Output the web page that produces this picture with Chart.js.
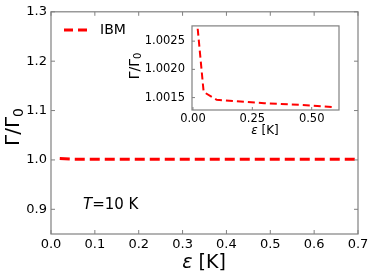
<!DOCTYPE html>
<html>
<head>
<meta charset="utf-8">
<script src="https://cdn.jsdelivr.net/npm/chart.js@4.4.1/dist/chart.umd.min.js"></script>
<style>
  body { margin: 0; background: #fff; }
  #wrap { position: relative; width: 374px; height: 277px; }
  #mainChart { position: absolute; left: 0; top: 0; }
  #insetChart { position: absolute; left: 125px; top: 12px; }
</style>
</head>
<body>
<div id="wrap">
  <canvas id="mainChart" width="374" height="277"></canvas>
  <canvas id="insetChart" width="225" height="130"></canvas>
</div>
<script>
// data
var epsMain = [0.02, 0.045, 0.1, 0.2, 0.3, 0.4, 0.5, 0.59, 0.7];
var gammaMain = [1.00272, 1.0016, 1.00146, 1.00143, 1.0014, 1.00138, 1.00136, 1.00133, 1.0013];
var epsInset = [0.02, 0.045, 0.1, 0.2, 0.3, 0.4, 0.5, 0.59];
var gammaInset = [1.00272, 1.0016, 1.00146, 1.00143, 1.0014, 1.00138, 1.00136, 1.00133];

var mainXTicks = [0, 0.1, 0.2, 0.3, 0.4, 0.5, 0.6, 0.7];
var mainYTicks = [0.9, 1.0, 1.1, 1.2, 1.3];
var insetXTicks = [0, 0.25, 0.5];
var insetYTicks = [1.0015, 1.002, 1.0025];

var FONT = "'DejaVu Sans', sans-serif";
var FRAME = '#808080';

function pts(xs, ys) {
  return xs.map(function (x, i) { return { x: x, y: ys[i] }; });
}

// inward ticks + frame
function framePlugin(sides, tickLen) {
  return {
    id: 'frame',
    afterDraw: function (chart) {
      var c = chart.ctx, a = chart.chartArea;
      var xs = chart.scales.x, ys = chart.scales.y;
      c.save();
      c.strokeStyle = FRAME;
      c.lineWidth = 1.2;
      c.strokeRect(a.left, a.top, a.right - a.left, a.bottom - a.top);
      c.lineWidth = 1;
      c.beginPath();
      xs.ticks.forEach(function (t) {
        var px = xs.getPixelForValue(t.value);
        c.moveTo(px, a.bottom); c.lineTo(px, a.bottom - tickLen);
        if (sides.top) { c.moveTo(px, a.top); c.lineTo(px, a.top + tickLen); }
      });
      ys.ticks.forEach(function (t) {
        var py = ys.getPixelForValue(t.value);
        c.moveTo(a.left, py); c.lineTo(a.left + tickLen, py);
        if (sides.right) { c.moveTo(a.right, py); c.lineTo(a.right - tickLen, py); }
      });
      c.stroke();
      c.restore();
    }
  };
}

function gammaTitle(c, x, y, size) {
  c.save();
  c.translate(x, y);
  c.rotate(-Math.PI / 2);
  c.fillStyle = '#000';
  c.textBaseline = 'middle';
  var main = '\u0393/\u0393';
  c.font = size + 'px ' + FONT;
  var w1 = c.measureText(main).width;
  c.font = Math.round(size * 0.7) + 'px ' + FONT;
  var w2 = c.measureText('0').width;
  var x0 = -(w1 + w2) / 2;
  c.font = size + 'px ' + FONT;
  c.textAlign = 'left';
  c.fillText(main, x0, 0);
  c.font = Math.round(size * 0.7) + 'px ' + FONT;
  c.fillText('0', x0 + w1, size * 0.25);
  c.restore();
}

function epsTitle(c, cx, cy, size) {
  c.save();
  c.fillStyle = '#000';
  c.textBaseline = 'middle';
  c.textAlign = 'left';
  c.font = 'italic ' + size + 'px ' + FONT;
  var w1 = c.measureText('\u03b5').width;
  c.font = size + 'px ' + FONT;
  var w2 = c.measureText(' [K]').width;
  var x0 = cx - (w1 + w2) / 2;
  c.font = 'italic ' + size + 'px ' + FONT;
  c.fillText('\u03b5', x0, cy);
  c.font = size + 'px ' + FONT;
  c.fillText(' [K]', x0 + w1, cy);
  c.restore();
}

var mainText = {
  id: 'mainText',
  afterDraw: function (chart) {
    var c = chart.ctx;
    gammaTitle(c, 14, 127, 20);
    epsTitle(c, 204, 263, 19);
    // legend
    c.save();
    c.strokeStyle = 'red';
    c.lineWidth = 3;
    c.setLineDash([9, 5]);
    c.beginPath(); c.moveTo(64, 30); c.lineTo(89, 30); c.stroke();
    c.setLineDash([]);
    c.fillStyle = '#000';
    c.textBaseline = 'middle';
    c.font = '14px ' + FONT;
    c.fillText('IBM', 100, 30);
    // T=10 K
    c.font = 'italic 15px ' + FONT;
    c.fillText('T', 83, 205);
    var wT = c.measureText('T').width;
    c.font = '15px ' + FONT;
    c.fillText('=10 K', 83 + wT, 205);
    c.restore();
  }
};

var insetText = {
  id: 'insetText',
  afterDraw: function (chart) {
    var c = chart.ctx;
    gammaTitle(c, 10, 54, 14);
    epsTitle(c, 140, 119, 12);
  }
};

new Chart(document.getElementById('mainChart'), {
  type: 'line',
  data: {
    datasets: [{
      data: pts(epsMain, gammaMain),
      borderColor: 'red',
      borderWidth: 3,
      borderDash: [10, 5],
      pointRadius: 0,
      fill: false,
      tension: 0
    }]
  },
  options: {
    responsive: false,
    animation: false,
    layout: { padding: { left: 0, top: 10, right: 16, bottom: 0 } },
    plugins: { legend: { display: false }, tooltip: { enabled: false } },
    scales: {
      x: {
        type: 'linear', min: 0, max: 0.7,
        afterBuildTicks: function (s) { s.ticks = mainXTicks.map(function (v) { return { value: v }; }); },
        afterFit: function (s) { s.height = 43; },
        grid: { display: false, drawTicks: false },
        border: { display: false },
        ticks: { padding: 3, color: '#000', font: { family: FONT, size: 13 }, maxRotation: 0,
          callback: function (v) { return v.toFixed(1); } }
      },
      y: {
        type: 'linear', min: 0.85, max: 1.3,
        afterBuildTicks: function (s) { s.ticks = mainYTicks.map(function (v) { return { value: v }; }); },
        afterFit: function (s) { s.width = 51; },
        grid: { display: false, drawTicks: false },
        border: { display: false },
        ticks: { padding: 4, color: '#000', font: { family: FONT, size: 13 },
          callback: function (v) { return v.toFixed(1); } }
      }
    }
  },
  plugins: [framePlugin({ top: true, right: true }, 4), mainText]
});

new Chart(document.getElementById('insetChart'), {
  type: 'line',
  data: {
    datasets: [{
      data: pts(epsInset, gammaInset),
      borderColor: 'red',
      borderWidth: 2,
      borderDash: [7, 4],
      pointRadius: 0,
      fill: false,
      tension: 0
    }]
  },
  options: {
    responsive: false,
    animation: false,
    layout: { padding: { left: 0, top: 10, right: 11, bottom: 0 } },
    plugins: { legend: { display: false }, tooltip: { enabled: false } },
    scales: {
      x: {
        type: 'linear', min: -0.004, max: 0.615,
        afterBuildTicks: function (s) { s.ticks = insetXTicks.map(function (v) { return { value: v }; }); },
        afterFit: function (s) { s.height = 32; },
        grid: { display: false, drawTicks: false },
        border: { display: false },
        ticks: { padding: 2, color: '#000', font: { family: FONT, size: 11.5 }, maxRotation: 0,
          callback: function (v) { return v.toFixed(2); } }
      },
      y: {
        type: 'linear', min: 1.00128, max: 1.00277,
        afterBuildTicks: function (s) { s.ticks = insetYTicks.map(function (v) { return { value: v }; }); },
        afterFit: function (s) { s.width = 67; },
        grid: { display: false, drawTicks: false },
        border: { display: false },
        ticks: { padding: 7, color: '#000', font: { family: FONT, size: 11.5 },
          callback: function (v) { return v.toFixed(4); } }
      }
    }
  },
  plugins: [framePlugin({ top: false, right: false }, 3), insetText]
});
</script>
</body>
</html>
